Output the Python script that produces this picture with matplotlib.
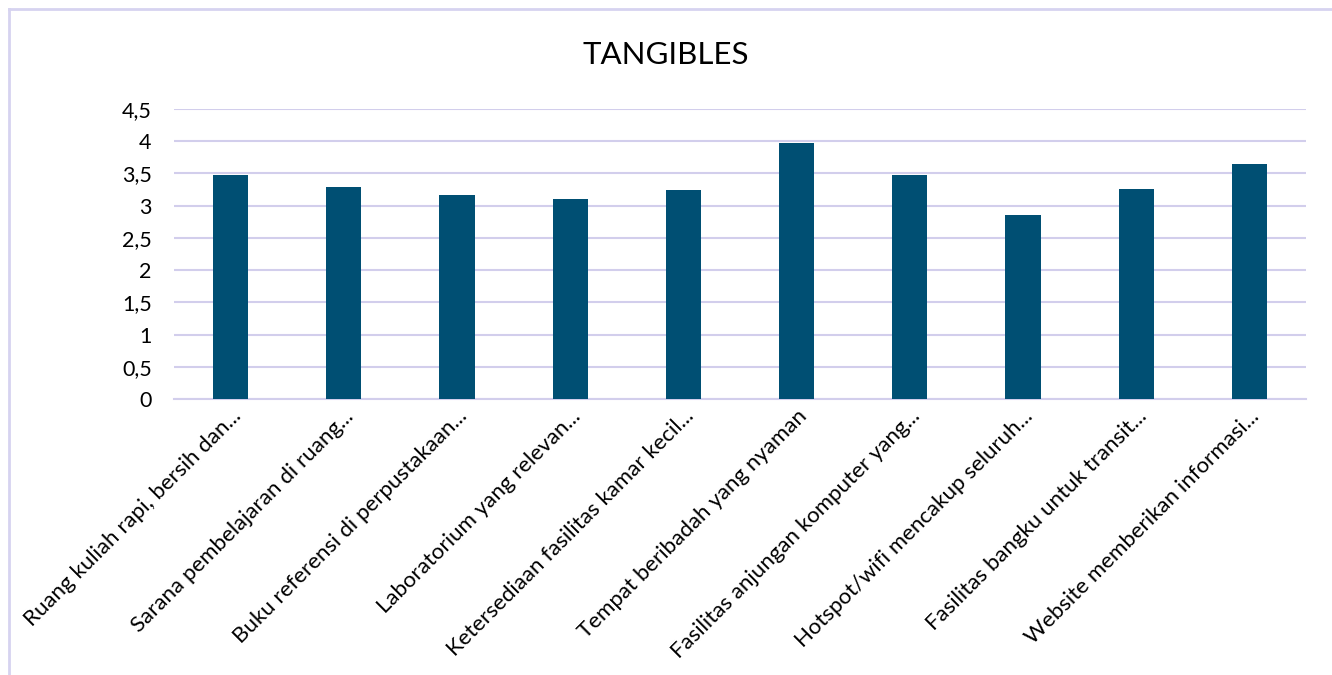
import matplotlib
matplotlib.use("Agg")
import matplotlib.pyplot as plt
from matplotlib.lines import Line2D
from matplotlib.ticker import FuncFormatter, MultipleLocator

plt.rcParams['font.family'] = ['Lato', 'DejaVu Sans']

categories = [
    "Ruang kuliah rapi, bersih dan...",
    "Sarana pembelajaran di ruang...",
    "Buku referensi di perpustakaan...",
    "Laboratorium yang relevan...",
    "Ketersediaan fasilitas kamar kecil...",
    "Tempat beribadah yang nyaman",
    "Fasilitas anjungan komputer yang...",
    "Hotspot/wifi mencakup seluruh...",
    "Fasilitas bangku untuk transit...",
    "Website memberikan informasi...",
]
values = [3.47, 3.29, 3.16, 3.10, 3.25, 3.97, 3.48, 2.85, 3.26, 3.64]

bar_color = "#004F73"
grid_color = "#D2CEEC"
border_color = "#D6D3F0"

fig = plt.figure(figsize=(13.32, 6.75), dpi=100)
ax = fig.add_axes([0.1306, 0.4089, 0.8499, 0.4296])

x = list(range(len(categories)))
ax.bar(x, values, width=0.31, color=bar_color, zorder=3)

ax.set_xlim(-0.5, len(categories) - 0.5)
ax.set_ylim(0, 4.5)
ax.yaxis.set_major_locator(MultipleLocator(0.5))
ax.yaxis.set_major_formatter(FuncFormatter(lambda v, p: (f"{v:g}").replace('.', ',')))
ax.grid(axis='y', color=grid_color, linewidth=1.5, zorder=0)
for s in ['top', 'right', 'left']:
    ax.spines[s].set_visible(False)
ax.spines['bottom'].set_color(grid_color)
ax.spines['bottom'].set_linewidth(1.5)
ax.tick_params(axis='y', length=0, labelsize=15.5, pad=16, colors='black')
ax.tick_params(axis='x', length=0, pad=5)
ax.set_xticks(x)
ax.set_xticklabels(categories, rotation=45, ha='right', rotation_mode='anchor', fontsize=16)

fig.text(0.5, 0.918, "TANGIBLES", ha='center', va='center', fontsize=22.5)

fig.add_artist(Line2D([0.0068, 0.0068], [0.0, 0.9867], transform=fig.transFigure, color=border_color, linewidth=2))
fig.add_artist(Line2D([0.0068, 1.0], [0.9867, 0.9867], transform=fig.transFigure, color=border_color, linewidth=2))

fig.savefig("out.png", dpi=100, facecolor='white')
